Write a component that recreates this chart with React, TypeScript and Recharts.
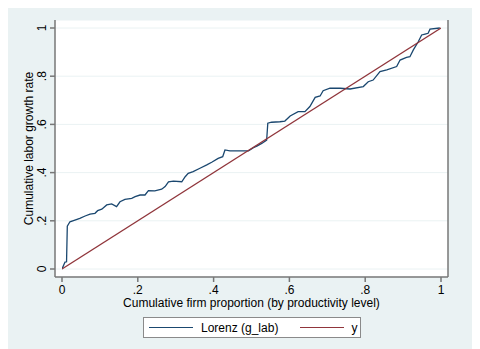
import { LineChart, Line, XAxis, YAxis, CartesianGrid, Legend } from "recharts";

const lorenzX = [
  0, 0.008, 0.012, 0.014, 0.021, 0.034, 0.047, 0.061, 0.074, 0.087, 0.094, 0.105, 0.118, 0.131,
  0.144, 0.153, 0.166, 0.184, 0.193, 0.206, 0.219, 0.228, 0.245, 0.263, 0.272, 0.281, 0.294,
  0.316, 0.325, 0.333, 0.346, 0.364, 0.382, 0.395, 0.412, 0.424, 0.43, 0.443, 0.47, 0.492,
  0.505, 0.514, 0.527, 0.54, 0.543, 0.553, 0.575, 0.588, 0.602, 0.623, 0.641, 0.654, 0.668,
  0.681, 0.689, 0.707, 0.734, 0.76, 0.795, 0.808, 0.821, 0.839, 0.857, 0.883, 0.892, 0.909,
  0.918, 0.927, 0.94, 0.949, 0.958, 0.966, 0.971, 0.997,
];
const lorenzY = [
  0, 0.029, 0.03, 0.178, 0.196, 0.203, 0.21, 0.22, 0.228, 0.231, 0.242, 0.248, 0.266, 0.27,
  0.259, 0.279, 0.289, 0.293, 0.3, 0.307, 0.307, 0.325, 0.324, 0.331, 0.342, 0.362, 0.365,
  0.362, 0.383, 0.397, 0.404, 0.418, 0.432, 0.443, 0.459, 0.466, 0.494, 0.49, 0.49, 0.49,
  0.503, 0.51, 0.521, 0.535, 0.605, 0.609, 0.611, 0.614, 0.635, 0.653, 0.653, 0.674, 0.712,
  0.718, 0.74, 0.75, 0.75, 0.747, 0.757, 0.777, 0.784, 0.819, 0.826, 0.84, 0.867, 0.878,
  0.881, 0.909, 0.943, 0.971, 0.975, 0.978, 0.995, 1.0,
];
const diagX = [0, 1];
const ticks = [0, 0.2, 0.4, 0.6, 0.8, 1];

const lorenzData = lorenzX.map((x, i) => ({ x, lorenz: lorenzY[i] }));
const diagData = diagX.map((x) => ({ x, y: x }));

const BLUE = "#1a476f";
const RED = "#90353b";
const BG = "#eaf2f3";
const AXIS = "#777777";
const FONT = "'Liberation Sans', Arial, sans-serif";

const fmt = (v: number) => (v === 0 ? "0" : v === 1 ? "1" : String(v).replace(/^0/, ""));

const LeftTick = (props: any) => {
  const { x, y, payload } = props;
  return (
    <text x={0} y={0} transform={`translate(${x - 6},${y}) rotate(-90)`} textAnchor="middle"
      dominantBaseline="central" fontSize={12} fill="#000" fontFamily={FONT}>
      {fmt(payload.value)}
    </text>
  );
};

const RightTick = (props: any) => {
  const { x, y, payload } = props;
  return (
    <text x={0} y={0} transform={`translate(${x + 7},${y}) rotate(90)`} textAnchor="middle"
      dominantBaseline="central" fontSize={12} fill="#000" fontFamily={FONT}>
      {fmt(payload.value)}
    </text>
  );
};

const BottomTick = (props: any) => {
  const { x, y, payload } = props;
  return (
    <text x={x} y={y + 6} textAnchor="middle" dominantBaseline="central" fontSize={12}
      fill="#000" fontFamily={FONT}>
      {fmt(payload.value)}
    </text>
  );
};

const LegendBox = () => (
  <div style={{ width: 216, height: 19, background: "#fff", border: "1px solid #8a8a8a",
    display: "flex", alignItems: "center", fontFamily: FONT, fontSize: 12, color: "#000" }}>
    <span style={{ display: "inline-block", width: 44, height: 1.3, background: BLUE, marginLeft: 5 }} />
    <span style={{ marginLeft: 8 }}>Lorenz (g_lab)</span>
    <span style={{ display: "inline-block", width: 44, height: 1.3, background: RED, marginLeft: 22 }} />
    <span style={{ marginLeft: 7 }}>y</span>
  </div>
);

export default function App() {
  return (
    <div style={{ width: 472, height: 341, background: BG }}>
      <LineChart width={472} height={341} margin={{ top: 12, right: 7, bottom: 42, left: 7 }}>
        <CartesianGrid yAxisId="left" vertical={false} stroke={BG} fill="#fff" />
        <XAxis type="number" dataKey="x" domain={[0, 1]} ticks={ticks} height={30}
          padding={{ left: 7, right: 7 }} tickSize={5} stroke={AXIS} strokeWidth={1.5}
          tick={<BottomTick />} allowDataOverflow
          label={{ content: ({ viewBox }: any) => (
            <text x={viewBox.x + viewBox.width / 2} y={viewBox.y + 26} textAnchor="middle"
              dominantBaseline="central" fontSize={12} fontFamily={FONT} fill="#000">
              Cumulative firm proportion (by productivity level)
            </text>
          ) }} />
        <YAxis yAxisId="left" type="number" domain={[0, 1]} ticks={ticks} width={40}
          padding={{ top: 8, bottom: 8 }} tickSize={5} stroke={AXIS} strokeWidth={1.5}
          tick={<LeftTick />}
          label={{ content: ({ viewBox }: any) => (
            <text x={0} y={0} transform={`translate(${viewBox.x + 14},${viewBox.y + viewBox.height / 2}) rotate(-90)`}
              textAnchor="middle" dominantBaseline="central" fontSize={12} fontFamily={FONT} fill="#000">
              Cumulative labor growth rate
            </text>
          ) }} />
        <YAxis yAxisId="right" orientation="right" type="number" domain={[0, 1]} ticks={ticks}
          width={25} padding={{ top: 8, bottom: 8 }} tickSize={5} stroke={AXIS} strokeWidth={1.5}
          tick={<RightTick />} />
        <Legend layout="horizontal" verticalAlign="middle" align="center"
          wrapperStyle={{ left: 135, top: 309, width: 218 }} content={<LegendBox />} />
        <Line yAxisId="left" data={lorenzData} dataKey="lorenz" type="linear" stroke={BLUE}
          strokeWidth={1.3} dot={false} isAnimationActive={false} />
        <Line yAxisId="left" data={diagData} dataKey="y" type="linear" stroke={RED}
          strokeWidth={1.3} dot={false} isAnimationActive={false} />
      </LineChart>
    </div>
  );
}
